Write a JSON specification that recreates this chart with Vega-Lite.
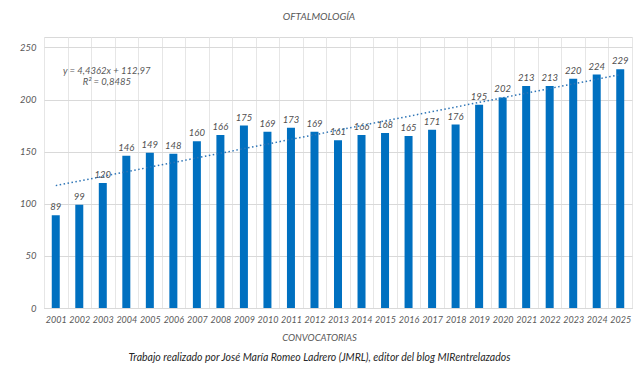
{
  "$schema": "https://vega.github.io/schema/vega-lite/v6.json",
  "width": 588,
  "height": 271,
  "autosize": {"type": "none"},
  "padding": {"left": 44, "top": 37, "right": 8, "bottom": 66},
  "background": "white",
  "config": {"font": "Lato", "view": {"stroke": "#d9d9d9"}},
  "title": {"text": "OFTALMOLOGÍA", "fontSize": 10, "fontStyle": "italic", "fontWeight": "normal", "color": "#595959", "anchor": "middle", "dx": -19, "offset": 15},
  "data": {"values": [
    {"year": 2001, "value": 89}, {"year": 2002, "value": 99}, {"year": 2003, "value": 120},
    {"year": 2004, "value": 146}, {"year": 2005, "value": 149}, {"year": 2006, "value": 148},
    {"year": 2007, "value": 160}, {"year": 2008, "value": 166}, {"year": 2009, "value": 175},
    {"year": 2010, "value": 169}, {"year": 2011, "value": 173}, {"year": 2012, "value": 169},
    {"year": 2013, "value": 161}, {"year": 2014, "value": 166}, {"year": 2015, "value": 168},
    {"year": 2016, "value": 165}, {"year": 2017, "value": 171}, {"year": 2018, "value": 176},
    {"year": 2019, "value": 195}, {"year": 2020, "value": 202}, {"year": 2021, "value": 213},
    {"year": 2022, "value": 213}, {"year": 2023, "value": 220}, {"year": 2024, "value": 224},
    {"year": 2025, "value": 229}
  ]},
  "layer": [
    {
      "mark": {"type": "bar", "size": 8, "color": "#0070C0"},
      "encoding": {
        "x": {"field": "year", "type": "ordinal", "scale": {"paddingInner": 0, "paddingOuter": 0},
          "axis": {"title": "CONVOCATORIAS", "titleFontSize": 9.5, "titleFontStyle": "italic", "titleFontWeight": "normal", "titleColor": "#595959", "titlePadding": 8, "titleX": 275,
            "labelAngle": 0, "labelFontStyle": "italic", "labelFontSize": 9, "labelColor": "#595959", "labelPadding": 7, "labelOverlap": false,
            "ticks": false, "tickBand": "extent", "grid": true, "gridColor": "#e6e6e6", "domainColor": "#d9d9d9"}},
        "y": {"field": "value", "type": "quantitative", "scale": {"domain": [0, 250]},
          "axis": {"values": [0, 50, 100, 150, 200, 250], "title": null, "labelFontStyle": "italic", "labelFontSize": 9.5, "labelColor": "#595959", "ticks": false, "domain": false, "gridColor": "#d9d9d9", "labelPadding": 8}}
      }
    },
    {
      "mark": {"type": "text", "baseline": "bottom", "dy": -3, "fontStyle": "italic", "fontSize": 9.5, "color": "#505050"},
      "encoding": {
        "x": {"field": "year", "type": "ordinal", "axis": null},
        "y": {"field": "value", "type": "quantitative"},
        "text": {"field": "value", "type": "quantitative"}
      }
    },
    {
      "transform": [{"regression": "value", "on": "year"}],
      "mark": {"type": "line", "strokeDash": [1.5, 2.5], "strokeWidth": 1.5, "color": "#2E75B6"},
      "encoding": {
        "x": {"field": "year", "type": "ordinal",
          "axis": {"orient": "bottom", "title": "Trabajo realizado por José María Romeo Ladrero (JMRL), editor del blog MIRentrelazados", "titleFontSize": 10.5, "titleFontStyle": "italic", "titleFontWeight": "normal", "titleColor": "#262626", "titleX": 275, "titleY": 49, "titleBaseline": "middle",
            "labels": false, "ticks": false, "domain": false, "grid": false}},
        "y": {"field": "value", "type": "quantitative"}
      }
    },
    {
      "data": {"values": [{"note": "trend"}]},
      "mark": {"type": "text", "fontStyle": "italic", "fontSize": 9.5, "color": "#595959", "lineHeight": 11, "baseline": "middle", "dx": 4},
      "encoding": {
        "x": {"datum": 2003, "type": "ordinal", "axis": null},
        "y": {"datum": 227, "type": "quantitative"},
        "text": {"value": ["y = 4,4362x + 112,97", "R² = 0,8485"]}
      }
    }
  ],
  "resolve": {"axis": {"x": "independent"}}
}
